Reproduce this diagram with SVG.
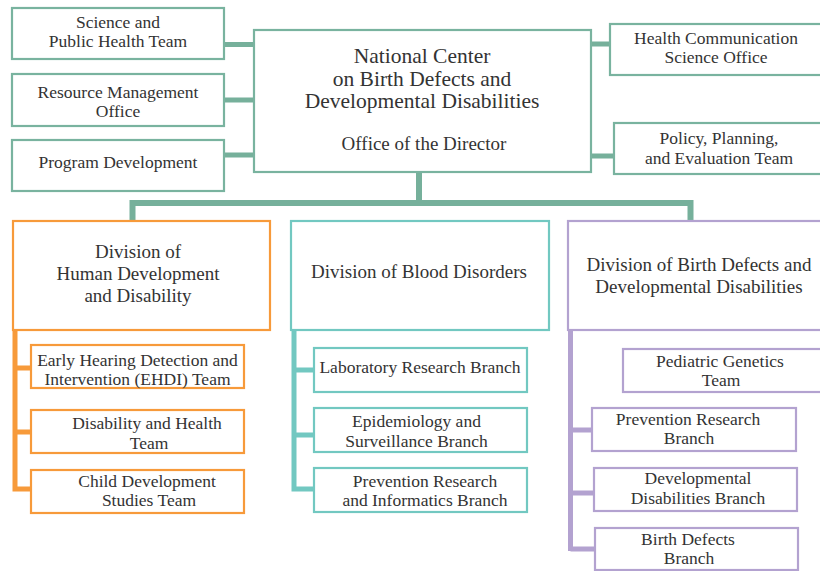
<svg xmlns="http://www.w3.org/2000/svg" width="820" height="571" viewBox="0 0 820 571">
<style>
  text { font-family: "Liberation Serif", "DejaVu Serif", serif; fill: #333333; text-anchor: middle; }
  .t { font-size: 17.5px; }
  .title { font-size: 21.5px; }
  .sub { font-size: 19px; }
  .div { font-size: 19px; }
  .bg { fill: #ffffff; stroke: #79B39F; stroke-width: 2.2; }
  .bo { fill: #ffffff; stroke: #F79A3A; stroke-width: 2.2; }
  .bt { fill: #ffffff; stroke: #72C8C1; stroke-width: 2.2; }
  .bp { fill: #ffffff; stroke: #B3A2D0; stroke-width: 2.2; }
  .cg { stroke: #76B09B; fill: none; }
  .co { stroke: #F79A3A; fill: none; stroke-width: 5; }
  .ct { stroke: #72C8C1; fill: none; stroke-width: 5; }
  .cp { stroke: #B3A2D0; fill: none; stroke-width: 5; }
</style>
<rect width="820" height="571" fill="#ffffff"/>
<g id="connectors">
  <path class="cg" stroke-width="5" d="M224 44.5H255 M224 100H255 M224 155H255 M591 44H611 M591 156H615"/>
  <path class="cg" stroke-width="6" d="M419 172V203 M132.5 221V203H690.5V221"/>
  <path class="co" d="M15 330V491.5 M15 368H32 M15 432H32 M15 489H32"/>
  <path class="ct" d="M294 330V491.5 M294 370H315 M294 435H315 M294 489H315"/>
  <path class="cp" d="M570.5 330V551 M570.5 430H593 M570.5 493H595 M570.5 549H596"/>
</g>
<g id="science">
  <rect class="bg" x="12" y="8" width="212" height="51"/>
  <text class="t" x="118" y="28">Science and</text>
  <text class="t" x="118" y="47">Public Health Team</text>
</g>
<g id="resource">
  <rect class="bg" x="12" y="74" width="212" height="52"/>
  <text class="t" x="118" y="98">Resource Management</text>
  <text class="t" x="118" y="117">Office</text>
</g>
<g id="program">
  <rect class="bg" x="12" y="140" width="212" height="51"/>
  <text class="t" x="118" y="168">Program Development</text>
</g>
<g id="center">
  <rect class="bg" x="254" y="30" width="337" height="142"/>
  <text class="title" x="422" y="63">National Center</text>
  <text class="title" x="422" y="86">on Birth Defects and</text>
  <text class="title" x="422" y="108">Developmental Disabilities</text>
  <text class="sub" x="424" y="150">Office of the Director</text>
</g>
<g id="healthcomm">
  <rect class="bg" x="610" y="24" width="212" height="51"/>
  <text class="t" x="716" y="44">Health Communication</text>
  <text class="t" x="716" y="63">Science Office</text>
</g>
<g id="policy">
  <rect class="bg" x="614" y="123" width="208" height="51"/>
  <text class="t" x="719" y="144">Policy, Planning,</text>
  <text class="t" x="719" y="164">and Evaluation Team</text>
</g>
<g id="div-human">
  <rect class="bo" x="13" y="221" width="257" height="109"/>
  <text class="div" x="138" y="258">Division of</text>
  <text class="div" x="138" y="280">Human Development</text>
  <text class="div" x="138" y="302">and Disability</text>
</g>
<g id="ehdi">
  <rect class="bo" x="31" y="345" width="213" height="43"/>
  <text class="t" x="137.5" y="366">Early Hearing Detection and</text>
  <text class="t" x="137.5" y="385">Intervention (EHDI) Team</text>
</g>
<g id="disability">
  <rect class="bo" x="31" y="410" width="213" height="43"/>
  <text class="t" x="147" y="429">Disability and Health</text>
  <text class="t" x="149" y="449">Team</text>
</g>
<g id="childdev">
  <rect class="bo" x="31" y="470" width="213" height="43"/>
  <text class="t" x="147" y="487">Child Development</text>
  <text class="t" x="149" y="506">Studies Team</text>
</g>
<g id="div-blood">
  <rect class="bt" x="291" y="221" width="258" height="109"/>
  <text class="div" x="419" y="278">Division of Blood Disorders</text>
</g>
<g id="lab">
  <rect class="bt" x="314" y="348" width="213" height="44"/>
  <text class="t" x="420" y="373">Laboratory Research Branch</text>
</g>
<g id="epi">
  <rect class="bt" x="314" y="408" width="213" height="44"/>
  <text class="t" x="416.5" y="427">Epidemiology and</text>
  <text class="t" x="416.5" y="447">Surveillance Branch</text>
</g>
<g id="previnf">
  <rect class="bt" x="314" y="468" width="213" height="44"/>
  <text class="t" x="425" y="487">Prevention Research</text>
  <text class="t" x="425" y="506">and Informatics Branch</text>
</g>
<g id="div-birth">
  <rect class="bp" x="568" y="221" width="254" height="109"/>
  <text class="div" x="699" y="271">Division of Birth Defects and</text>
  <text class="div" x="699" y="293">Developmental Disabilities</text>
</g>
<g id="pediatric">
  <rect class="bp" x="623" y="349" width="199" height="43"/>
  <text class="t" x="720" y="367">Pediatric Genetics</text>
  <text class="t" x="721" y="386">Team</text>
</g>
<g id="prevres">
  <rect class="bp" x="592" y="408" width="204" height="43"/>
  <text class="t" x="688" y="425">Prevention Research</text>
  <text class="t" x="689" y="444">Branch</text>
</g>
<g id="devdis">
  <rect class="bp" x="594" y="468" width="203" height="43"/>
  <text class="t" x="698" y="484">Developmental</text>
  <text class="t" x="698" y="504">Disabilities Branch</text>
</g>
<g id="birthdef">
  <rect class="bp" x="595" y="528" width="203" height="42"/>
  <text class="t" x="688" y="545">Birth Defects</text>
  <text class="t" x="689" y="564">Branch</text>
</g>
</svg>
